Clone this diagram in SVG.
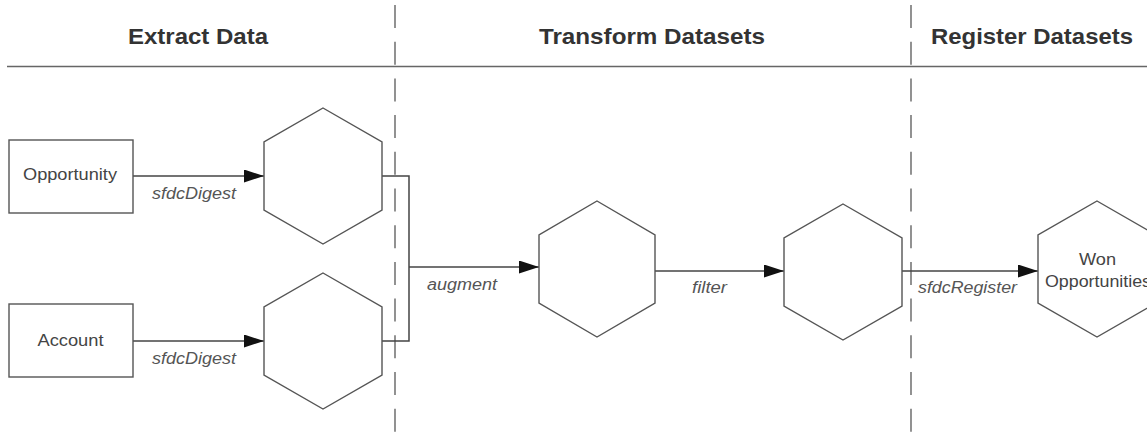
<svg xmlns="http://www.w3.org/2000/svg" width="1147" height="433" viewBox="0 0 1147 433">
  <defs>
    <marker id="arrow" markerUnits="userSpaceOnUse" markerWidth="20" markerHeight="13" refX="20" refY="6.5" orient="auto">
      <path d="M0,0 L20,6.5 L0,13 z" fill="#111"/>
    </marker>
    <style>
      .title { font-family: "Liberation Sans", Arial, sans-serif; font-weight: bold; font-size: 22px; fill: #333; text-anchor: middle; }
      .lbl { font-family: "Liberation Sans", Arial, sans-serif; font-size: 16px; fill: #444; }
      .edge { font-family: "Liberation Sans", Arial, sans-serif; font-size: 16px; font-style: italic; fill: #555; }
      .shape { fill: #fff; stroke: #555; stroke-width: 1.4; }
      .conn { fill: none; stroke: #444; stroke-width: 1.5; }
      .lane { fill: none; stroke: #777; stroke-width: 1.6; stroke-dasharray: 23 13.7; }
    </style>
  </defs>
  <rect width="1147" height="433" fill="#fff"/>

  <g id="header">
    <line x1="7" y1="66.5" x2="1147" y2="66.5" stroke="#666" stroke-width="1.6"/>
    <text class="title" x="198" y="44" textLength="140" lengthAdjust="spacingAndGlyphs">Extract Data</text>
    <text class="title" x="652" y="44" textLength="226" lengthAdjust="spacingAndGlyphs">Transform Datasets</text>
    <text class="title" x="1032" y="44" textLength="202" lengthAdjust="spacingAndGlyphs">Register Datasets</text>
  </g>

  <g id="lanes">
    <line class="lane" x1="395" y1="5" x2="395" y2="433"/>
    <line class="lane" x1="911" y1="5" x2="911" y2="433"/>
  </g>

  <g id="connectors">
    <line class="conn" x1="133" y1="176" x2="264" y2="176" marker-end="url(#arrow)"/>
    <line class="conn" x1="133" y1="341" x2="264" y2="341" marker-end="url(#arrow)"/>
    <polyline class="conn" points="382,176 409,176 409,341 382,341"/>
    <line class="conn" x1="409" y1="267" x2="539" y2="267" marker-end="url(#arrow)"/>
    <line class="conn" x1="655" y1="271" x2="784" y2="271" marker-end="url(#arrow)"/>
    <line class="conn" x1="902" y1="271" x2="1038" y2="271" marker-end="url(#arrow)"/>
    <text class="edge" x="152" y="199" textLength="84" lengthAdjust="spacingAndGlyphs">sfdcDigest</text>
    <text class="edge" x="152" y="364" textLength="84" lengthAdjust="spacingAndGlyphs">sfdcDigest</text>
    <text class="edge" x="427" y="290" textLength="70" lengthAdjust="spacingAndGlyphs">augment</text>
    <text class="edge" x="692" y="293" textLength="35" lengthAdjust="spacingAndGlyphs">filter</text>
    <text class="edge" x="918" y="293" textLength="99" lengthAdjust="spacingAndGlyphs">sfdcRegister</text>
  </g>

  <g id="opportunity">
    <rect class="shape" x="9" y="140" width="124" height="73"/>
    <text class="lbl" x="23" y="180" textLength="94" lengthAdjust="spacingAndGlyphs">Opportunity</text>
  </g>
  <g id="account">
    <rect class="shape" x="9" y="304" width="124" height="73"/>
    <text class="lbl" x="37.5" y="346" textLength="66" lengthAdjust="spacingAndGlyphs">Account</text>
  </g>
  <g id="hex-opportunity">
    <polygon class="shape" points="323,108 382,142 382,210 323,244 264,210 264,142"/>
  </g>
  <g id="hex-account">
    <polygon class="shape" points="323,273 382,307 382,375 323,409 264,375 264,307"/>
  </g>
  <g id="hex-augment">
    <polygon class="shape" points="597,201 655,235 655,303 597,337 539,303 539,235"/>
  </g>
  <g id="hex-filter">
    <polygon class="shape" points="843,204 902,238 902,306 843,340 784,306 784,238"/>
  </g>
  <g id="hex-won">
    <polygon class="shape" points="1097,201 1156,235 1156,303 1097,337 1038,303 1038,235"/>
    <text class="lbl" x="1079" y="265" textLength="37" lengthAdjust="spacingAndGlyphs">Won</text>
    <text class="lbl" x="1045" y="287" textLength="106" lengthAdjust="spacingAndGlyphs">Opportunities</text>
  </g>
</svg>
